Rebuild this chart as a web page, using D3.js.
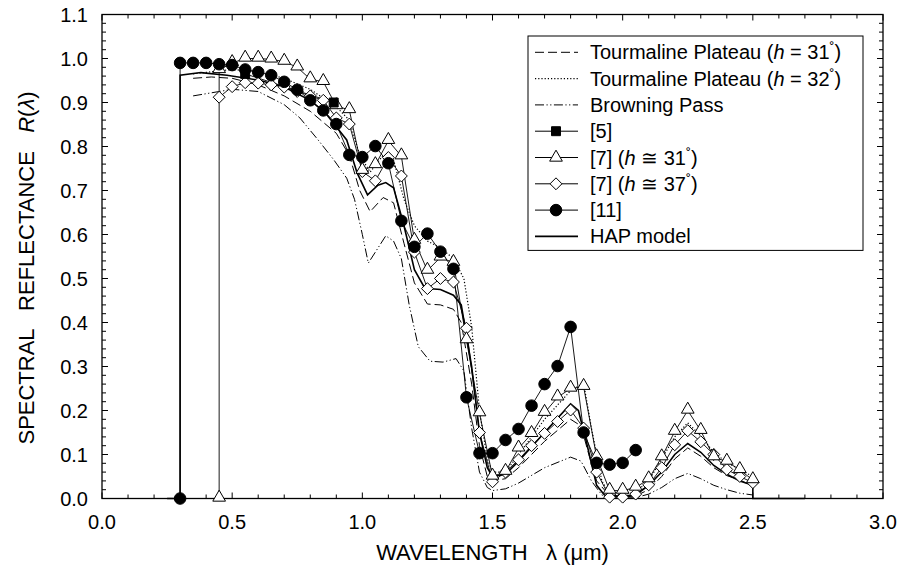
<!DOCTYPE html>
<html>
<head>
<meta charset="utf-8">
<title>Spectral reflectance</title>
<script src="https://cdn.jsdelivr.net/npm/d3@7"></script>
<style>
  body { margin: 0; background: #fff; }
  text { font-family: "Liberation Sans", Arial, sans-serif; }
</style>
</head>
<body>
<script>
// series: [wavelength um, reflectance]
var tourm31 = [[0.35,0.955],[0.42,0.958],[0.5,0.955],[0.6,0.94],[0.7,0.915],[0.8,0.88],[0.9,0.83],[0.95,0.78],
  [0.99,0.7],[1.03,0.652],[1.08,0.684],[1.12,0.672],[1.16,0.58],[1.2,0.49],[1.25,0.442],[1.3,0.44],[1.35,0.43],
  [1.38,0.4],[1.42,0.26],[1.45,0.12],[1.48,0.05],[1.5,0.04],[1.55,0.045],[1.6,0.07],[1.7,0.13],[1.8,0.18],
  [1.84,0.165],[1.87,0.1],[1.9,0.04],[1.95,0.006],[2.0,0.003],[2.05,0.006],[2.1,0.02],[2.15,0.05],[2.2,0.09],
  [2.25,0.115],[2.3,0.096],[2.35,0.07],[2.4,0.052],[2.45,0.042],[2.5,0.028]];

var tourm32 = [[0.35,0.965],[0.42,0.97],[0.5,0.975],[0.6,0.97],[0.7,0.955],[0.8,0.93],[0.9,0.89],[0.95,0.86],
  [0.99,0.78],[1.03,0.742],[1.08,0.78],[1.12,0.77],[1.16,0.68],[1.2,0.62],[1.25,0.585],[1.3,0.57],[1.35,0.545],
  [1.39,0.5],[1.42,0.39],[1.45,0.2],[1.48,0.09],[1.5,0.06],[1.55,0.06],[1.6,0.1],[1.7,0.18],[1.8,0.245],
  [1.85,0.262],[1.88,0.16],[1.92,0.04],[1.95,0.01],[2.0,0.008],[2.05,0.015],[2.1,0.04],[2.15,0.09],[2.2,0.14],
  [2.25,0.172],[2.3,0.142],[2.35,0.105],[2.4,0.082],[2.45,0.066],[2.5,0.05]];

var browning = [[0.35,0.915],[0.42,0.922],[0.5,0.93],[0.6,0.925],[0.7,0.895],[0.76,0.865],[0.83,0.815],
  [0.89,0.77],[0.94,0.728],[0.97,0.68],[1.0,0.6],[1.023,0.535],[1.05,0.56],[1.09,0.597],[1.12,0.585],
  [1.15,0.545],[1.18,0.44],[1.215,0.345],[1.26,0.312],[1.31,0.31],[1.36,0.318],[1.39,0.29],[1.42,0.16],
  [1.45,0.06],[1.48,0.025],[1.5,0.018],[1.55,0.022],[1.6,0.035],[1.7,0.07],[1.8,0.094],[1.84,0.085],
  [1.88,0.04],[1.92,0.008],[1.95,0.002],[2.0,0.001],[2.05,0.002],[2.1,0.01],[2.15,0.025],[2.2,0.045],
  [2.25,0.057],[2.3,0.045],[2.35,0.03],[2.4,0.02],[2.45,0.012],[2.5,0.008]];

var ref5 = [[0.55,0.965],[0.89,0.9]];

var ref7h31 = [[0.45,0],[0.45,0.974],[0.5,0.99],[0.55,1.0],[0.6,1.0],[0.65,0.998],[0.7,0.993],[0.75,0.98],
  [0.8,0.953],[0.85,0.947],[0.9,0.892],[0.95,0.883],[1.0,0.745],[1.05,0.758],[1.1,0.813],[1.15,0.778],
  [1.2,0.586],[1.25,0.518],[1.3,0.548],[1.35,0.536],[1.4,0.36],[1.45,0.194],[1.5,0.05],[1.55,0.061],
  [1.6,0.114],[1.65,0.147],[1.7,0.195],[1.75,0.23],[1.8,0.25],[1.85,0.254],[1.9,0.094],[1.95,0.018],
  [2.0,0.018],[2.05,0.025],[2.1,0.044],[2.15,0.094],[2.2,0.152],[2.25,0.2],[2.3,0.154],[2.35,0.094],
  [2.4,0.084],[2.45,0.065],[2.5,0.042]];

var ref7h37 = [[0.45,0.912],[0.5,0.936],[0.55,0.945],[0.6,0.944],[0.65,0.94],[0.7,0.935],[0.75,0.925],
  [0.8,0.915],[0.85,0.905],[0.9,0.865],[0.95,0.851],[1.0,0.743],[1.05,0.722],[1.1,0.775],[1.15,0.733],
  [1.2,0.56],[1.25,0.477],[1.3,0.5],[1.35,0.492],[1.4,0.387],[1.45,0.15],[1.5,0.038],[1.55,0.06],
  [1.6,0.088],[1.65,0.12],[1.7,0.148],[1.75,0.175],[1.8,0.201],[1.85,0.16],[1.9,0.06],[1.95,0.003],
  [2.0,0.003],[2.05,0.01],[2.1,0.031],[2.15,0.07],[2.2,0.122],[2.25,0.154],[2.3,0.129],[2.35,0.1],
  [2.4,0.066],[2.45,0.05],[2.5,0.036]];

var ref11 = [[0.3,0],[0.3,0.99],[0.35,0.99],[0.4,0.99],[0.45,0.987],[0.5,0.985],[0.55,0.975],[0.6,0.969],
  [0.65,0.962],[0.7,0.947],[0.75,0.929],[0.8,0.905],[0.85,0.882],[0.9,0.851],[0.95,0.781],[1.0,0.776],
  [1.05,0.801],[1.1,0.762],[1.15,0.631],[1.2,0.572],[1.25,0.602],[1.3,0.561],[1.35,0.522],[1.4,0.23],
  [1.45,0.103],[1.5,0.103],[1.55,0.133],[1.6,0.158],[1.65,0.211],[1.7,0.26],[1.75,0.301],[1.8,0.39],
  [1.85,0.15],[1.9,0.081],[1.95,0.077],[2.0,0.081],[2.05,0.11]];

var hap = [[0.25,0],[0.3,0],[0.3,0.962],[0.38,0.968],[0.48,0.962],[0.6,0.951],[0.7,0.935],[0.8,0.905],
  [0.86,0.875],[0.94,0.815],[0.98,0.74],[1.02,0.69],[1.06,0.712],[1.09,0.718],[1.12,0.706],[1.16,0.62],
  [1.2,0.52],[1.24,0.478],[1.3,0.475],[1.35,0.462],[1.38,0.44],[1.42,0.3],[1.45,0.15],[1.48,0.07],
  [1.5,0.05],[1.55,0.055],[1.6,0.085],[1.7,0.15],[1.8,0.215],[1.83,0.2],[1.86,0.13],[1.9,0.03],
  [1.93,0.008],[2.0,0.005],[2.05,0.008],[2.1,0.03],[2.15,0.06],[2.2,0.1],[2.25,0.125],[2.3,0.105],
  [2.35,0.075],[2.4,0.055],[2.45,0.04],[2.5,0.03],[2.5,0],[2.7,0]];

var xTicks = [0.0, 0.5, 1.0, 1.5, 2.0, 2.5, 3.0];
var yTicks = [0.0, 0.1, 0.2, 0.3, 0.4, 0.5, 0.6, 0.7, 0.8, 0.9, 1.0, 1.1];

var W = 902, H = 571;
var m = {left: 102, top: 14.5, right: 883, bottom: 498.5};

var svg = d3.select("body").append("svg").attr("width", W).attr("height", H);

var x = d3.scaleLinear().domain([0, 3]).range([m.left, m.right]);
var y = d3.scaleLinear().domain([0, 1.1]).range([m.bottom, m.top]);

var line = d3.line().x(function(d){ return x(d[0]); }).y(function(d){ return y(d[1]); });

// frame
svg.append("rect").attr("x", m.left).attr("y", m.top)
  .attr("width", m.right - m.left).attr("height", m.bottom - m.top)
  .attr("fill", "none").attr("stroke", "#000").attr("stroke-width", 1.3);

// inward ticks on all four sides
var xMinor = d3.range(0, 31).map(function(i){ return i / 10; });
var yMinor = d3.range(0, 56).map(function(i){ return i / 50; });
var tg = svg.append("g").attr("stroke", "#000").attr("stroke-width", 1);
xMinor.forEach(function(v){
  var len = (Math.round(v * 10) % 5 == 0) ? 6 : 4;
  tg.append("line").attr("x1", x(v)).attr("x2", x(v)).attr("y1", m.bottom).attr("y2", m.bottom - len);
  tg.append("line").attr("x1", x(v)).attr("x2", x(v)).attr("y1", m.top).attr("y2", m.top + len);
});
yMinor.forEach(function(v){
  var len = (Math.round(v * 50) % 5 == 0) ? 6 : 4;
  tg.append("line").attr("y1", y(v)).attr("y2", y(v)).attr("x1", m.left).attr("x2", m.left + len);
  tg.append("line").attr("y1", y(v)).attr("y2", y(v)).attr("x1", m.right).attr("x2", m.right - len);
});

// tick labels
svg.selectAll(".xl").data(xTicks).enter().append("text")
  .attr("x", function(d){ return x(d); }).attr("y", m.bottom + 30)
  .attr("text-anchor", "middle").attr("font-size", 20)
  .text(function(d){ return d3.format(".1f")(d); });
svg.selectAll(".yl").data(yTicks).enter().append("text")
  .attr("x", m.left - 14).attr("y", function(d){ return y(d) + 7; })
  .attr("text-anchor", "end").attr("font-size", 20)
  .text(function(d){ return d3.format(".1f")(d); });

// axis titles
var xt = svg.append("text").attr("x", (m.left + m.right) / 2).attr("y", 560)
  .attr("text-anchor", "middle").attr("font-size", 22).attr("xml:space", "preserve");
xt.append("tspan").text("WAVELENGTH   \u03bb (\u03bcm)");

var yt = svg.append("text").attr("transform", "translate(34,268) rotate(-90)")
  .attr("text-anchor", "middle").attr("font-size", 22).attr("xml:space", "preserve");
yt.append("tspan").text("SPECTRAL   REFLECTANCE   ");
yt.append("tspan").attr("font-style", "italic").text("R");
yt.append("tspan").text("(");
yt.append("tspan").attr("font-style", "italic").text("\u03bb");
yt.append("tspan").text(")");

var plot = svg.append("g");

function drawLine(data, dash, width){
  plot.append("path").datum(data).attr("d", line)
    .attr("fill", "none").attr("stroke", "#000").attr("stroke-width", width)
    .attr("stroke-dasharray", dash);
}

var dashes = {t31: "9,4", t32: "1.2,2", brown: "9,2.5,1.2,2.5,1.2,2.5"};

drawLine(browning, dashes.brown, 1);
drawLine(tourm31, dashes.t31, 1);
drawLine(tourm32, dashes.t32, 1.2);
drawLine(hap, null, 1.6);
drawLine(ref7h37, null, 0.9);
drawLine(ref7h31, null, 0.9);
drawLine(ref5, null, 0.9);
drawLine(ref11, null, 0.9);

var sym = {
  square: d3.symbol().type(d3.symbolSquare).size(80),
  triangle: d3.symbol().type(d3.symbolTriangle).size(70),
  diamond: d3.symbol().type(d3.symbolDiamond2).size(90),
  circle: d3.symbol().type(d3.symbolCircle).size(105)
};

function drawMarks(data, s, fill, dy){
  plot.selectAll(null).data(data).enter().append("path")
    .attr("d", s)
    .attr("transform", function(d){ return "translate(" + x(d[0]) + "," + (y(d[1]) + (dy || 0)) + ")"; })
    .attr("fill", fill).attr("stroke", "#000").attr("stroke-width", 1);
}

drawMarks(ref7h37, sym.diamond, "#fff");
drawMarks(ref7h31, sym.triangle, "#fff", -1);
drawMarks(ref5, sym.square, "#000");
drawMarks(ref11, sym.circle, "#000");

// legend
var rowGap = 26.3, row0 = 52.3;
var lg = svg.append("g");
lg.append("rect").attr("x", 528).attr("y", 36).attr("width", 335).attr("height", row0 + 7 * rowGap + 14 - 36)
  .attr("fill", "#fff").attr("stroke", "#000").attr("stroke-width", 1);

var legendRows = [
  {dash: dashes.t31, w: 1, parts: [["Tourmaline Plateau (",""],["h","i"],[" = 31",""],["\u02da","s"],[")","b"]]},
  {dash: dashes.t32, w: 1.2, parts: [["Tourmaline Plateau (",""],["h","i"],[" = 32",""],["\u02da","s"],[")","b"]]},
  {dash: dashes.brown, w: 1, parts: [["Browning Pass",""]]},
  {mark: sym.square, fill: "#000", w: 1, parts: [["[5]",""]]},
  {mark: sym.triangle, fill: "#fff", w: 1, parts: [["[7] (",""],["h","i"],[" \u2245 31",""],["\u02da","s"],[")","b"]]},
  {mark: sym.diamond, fill: "#fff", w: 1, parts: [["[7] (",""],["h","i"],[" \u2245 37",""],["\u02da","s"],[")","b"]]},
  {mark: sym.circle, fill: "#000", w: 1, parts: [["[11]",""]]},
  {w: 1.6, parts: [["HAP model",""]]}
];

legendRows.forEach(function(r, i){
  var cy = row0 + i * rowGap;
  lg.append("line").attr("x1", 535).attr("x2", 578).attr("y1", cy).attr("y2", cy)
    .attr("stroke", "#000").attr("stroke-width", r.w).attr("stroke-dasharray", r.dash || null);
  if (r.mark) {
    lg.append("path").attr("d", r.mark).attr("transform", "translate(556," + cy + ")")
      .attr("fill", r.fill).attr("stroke", "#000");
  }
  var t = lg.append("text").attr("x", 590).attr("y", cy + 7).attr("font-size", 20)
    .attr("xml:space", "preserve");
  r.parts.forEach(function(p){
    var ts = t.append("tspan").text(p[0]);
    if (p[1] == "i") ts.attr("font-style", "italic");
    if (p[1] == "s") ts.attr("font-size", 15).attr("dy", -6);
    if (p[1] == "b") ts.attr("dy", 6);
  });
});
</script>
</body>
</html>
